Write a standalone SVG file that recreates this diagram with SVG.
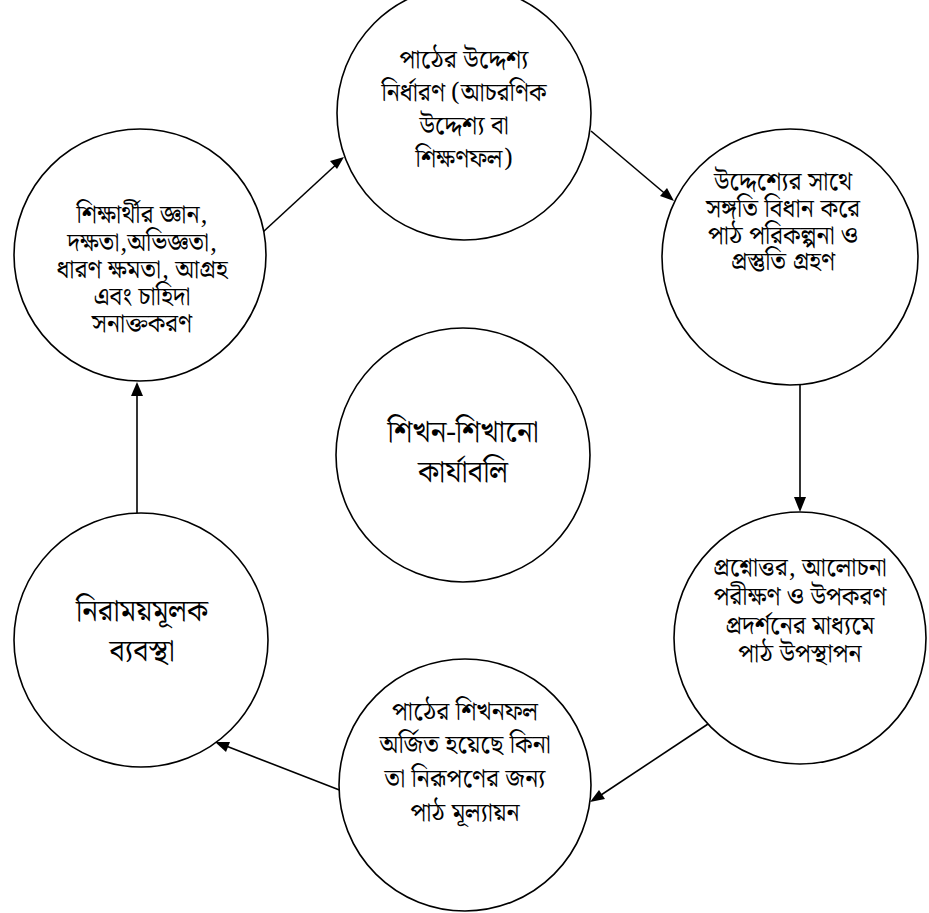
<svg xmlns="http://www.w3.org/2000/svg" width="929" height="913" viewBox="0 0 929 913">
<style>
.node{fill:#fff;stroke:#000;stroke-width:1.6}
.t{font-family:"Noto Serif Bengali","Noto Sans Bengali","Lohit Bengali","Noto Sans","DejaVu Sans",sans-serif;font-size:25px;font-weight:400;fill:#000;text-anchor:middle}
.big{font-size:30px}
.ln{stroke:#000;stroke-width:1.6;fill:none}
.hd{fill:#000}
</style>
<rect width="929" height="913" fill="#fff"/>
<g id="connectors">
<line class="ln" x1="263" y1="232" x2="340" y2="161"/>
<path class="hd" d="M344,157 L330,161 L337,169 Z"/>
<line class="ln" x1="591" y1="131" x2="669" y2="197"/>
<path class="hd" d="M674,201 L660,196 L667,188 Z"/>
<line class="ln" x1="800" y1="384" x2="800" y2="505"/>
<path class="hd" d="M800,512 L794,497 L806,497 Z"/>
<line class="ln" x1="708" y1="724" x2="595" y2="799"/>
<path class="hd" d="M590,802 L599,790 L605,799 Z"/>
<line class="ln" x1="342" y1="791" x2="221" y2="744"/>
<path class="hd" d="M215,742 L230,742 L226,752 Z"/>
<line class="ln" x1="137" y1="514" x2="137" y2="390"/>
<path class="hd" d="M137,382 L131,396 L143,396 Z"/>
</g>
<g id="n-top">
<circle class="node" cx="464" cy="113" r="127"/>
<text class="t"><tspan x="464" y="68">পাঠের উদ্দেশ্য</tspan><tspan x="464" y="101">নির্ধারণ (আচরণিক</tspan><tspan x="464" y="134">উদ্দেশ্য বা</tspan><tspan x="464" y="167">শিক্ষণফল)</tspan></text>
</g>
<g id="n-right-top">
<circle class="node" cx="790" cy="257" r="128"/>
<text class="t"><tspan x="783" y="190">উদ্দেশ্যের সাথে</tspan><tspan x="783" y="217">সঙ্গতি বিধান করে</tspan><tspan x="783" y="244">পাঠ পরিকল্পনা ও</tspan><tspan x="783" y="270">প্রস্তুতি গ্রহণ</tspan></text>
</g>
<g id="n-right-bottom">
<circle class="node" cx="800" cy="638" r="126"/>
<text class="t"><tspan x="800" y="576">প্রশ্নোত্তর, আলোচনা</tspan><tspan x="800" y="605">পরীক্ষণ ও উপকরণ</tspan><tspan x="800" y="634">প্রদর্শনের মাধ্যমে</tspan><tspan x="800" y="662">পাঠ উপস্থাপন</tspan></text>
</g>
<g id="n-bottom">
<circle class="node" cx="465" cy="785" r="126"/>
<text class="t"><tspan x="465" y="720">পাঠের শিখনফল</tspan><tspan x="465" y="753">অর্জিত হয়েছে কিনা</tspan><tspan x="465" y="787">তা নিরূপণের জন্য</tspan><tspan x="465" y="821">পাঠ মূল্যায়ন</tspan></text>
</g>
<g id="n-left-bottom">
<circle class="node" cx="141" cy="640" r="127"/>
<text class="t big"><tspan x="142" y="621">নিরাময়মূলক</tspan><tspan x="142" y="661">ব্যবস্থা</tspan></text>
</g>
<g id="n-left-top">
<circle class="node" cx="140" cy="255" r="126"/>
<text class="t"><tspan x="142" y="223">শিক্ষার্থীর জ্ঞান,</tspan><tspan x="142" y="251">দক্ষতা,অভিজ্ঞতা,</tspan><tspan x="142" y="278">ধারণ ক্ষমতা, আগ্রহ</tspan><tspan x="142" y="305">এবং চাহিদা</tspan><tspan x="142" y="332">সনাক্তকরণ</tspan></text>
</g>
<g id="n-center">
<circle class="node" cx="463" cy="455" r="127"/>
<text class="t big"><tspan x="463" y="442">শিখন-শিখানো</tspan><tspan x="463" y="482">কার্যাবলি</tspan></text>
</g>
</svg>
